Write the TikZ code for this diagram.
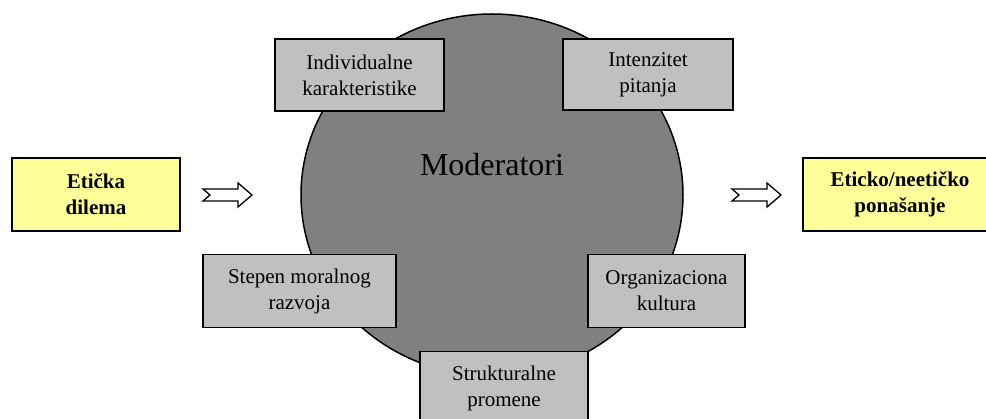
\documentclass[tikz,border=0pt]{standalone}
\usepackage{fontspec}
\setmainfont{Liberation Serif}
\usetikzlibrary{shapes.geometric}
\definecolor{boxgray}{HTML}{C0C0C0}
\definecolor{circgray}{HTML}{808080}
\definecolor{boxyellow}{HTML}{FFFF99}
\begin{document}
\begin{tikzpicture}[x=1pt,y=-1pt,
  modbox/.style={draw=black,line width=1.5pt,fill=boxgray,align=center,
    font=\fontsize{21}{26}\selectfont,inner sep=0pt},
  endbox/.style={draw=black,line width=2pt,fill=boxyellow,align=center,
    font=\fontsize{21}{26}\selectfont\bfseries,inner sep=0pt},
  blockarrow/.style={draw=black,line width=1.3pt,fill=white,line join=miter},
  pics/fatarrow/.style={code={
    \draw[blockarrow] (0,-6) -- (35,-6) -- (35,-12) -- (49,0) -- (35,12)
      -- (35,6) -- (0,6) -- (7,0) -- cycle;}}]
\useasboundingbox (0,0) rectangle (986,419);

% central moderator disc
\node[draw=black,line width=1.5pt,fill=circgray,ellipse,minimum width=382pt,
  minimum height=362pt,inner sep=0pt] (mod) at (492,195) {};
\node[font=\fontsize{32}{38}\selectfont] (modlbl) at (492,165) {Moderatori};

% moderator factors
\node[modbox,minimum width=169pt,minimum height=72pt] (ind) at (359.5,75)
  {Individualne\\karakteristike};
\node[modbox,minimum width=170pt,minimum height=71pt] (int) at (648,74.5)
  {Intenzitet\\pitanja};
\node[modbox,minimum width=193pt,minimum height=73pt] (stp) at (299.5,291)
  {Stepen moralnog\\razvoja};
\node[modbox,minimum width=157pt,minimum height=73pt] (org) at (666.5,291)
  {Organizaciona\\kultura};
\node[modbox,minimum width=168pt,minimum height=76pt,anchor=north] (str)
  at (504,351) {};
\node[font=\fontsize{21}{26}\selectfont,align=center] (strlbl) at (504,388)
  {Strukturalne\\promene};

% input and outcome
\node[endbox,minimum width=168pt,minimum height=73pt] (dil) at (96,194.5)
  {Etička\\dilema};
\node[endbox,minimum width=194pt,minimum height=73pt] (beh) at (900,194.5)
  {Eticko/neetičko\\ponašanje};

% flow arrows
\coordinate (a1) at (203,195);
\coordinate (a2) at (732,195);
\pic at (a1) {fatarrow};
\pic at (a2) {fatarrow};
\end{tikzpicture}
\end{document}
